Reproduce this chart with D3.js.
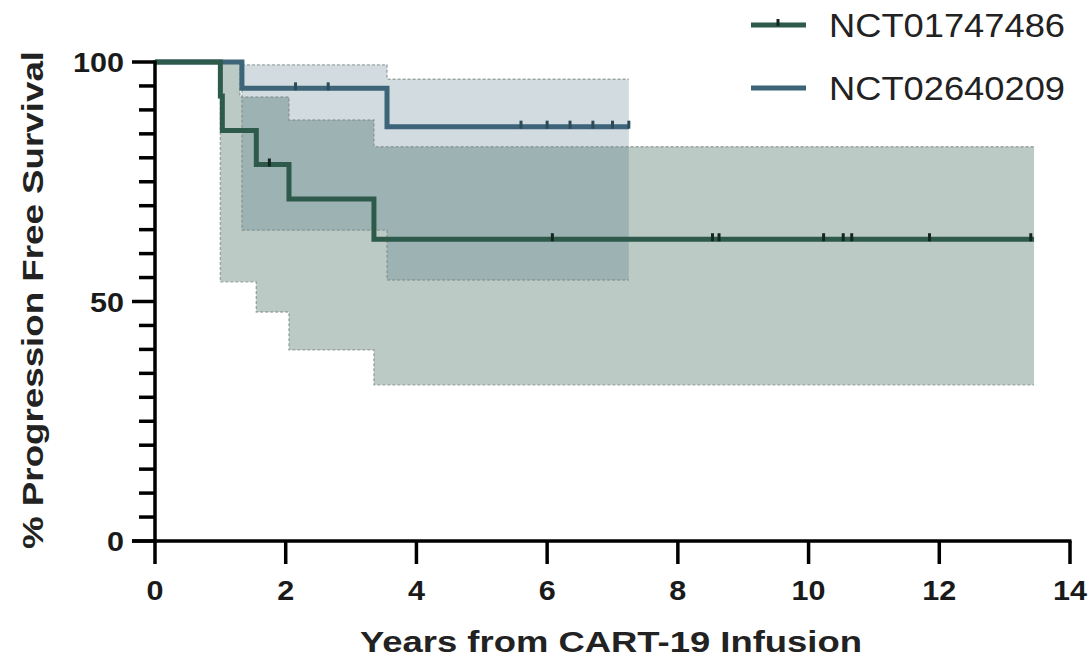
<!DOCTYPE html>
<html>
<head>
<meta charset="utf-8">
<script src="https://cdn.jsdelivr.net/npm/d3@7"></script>
<style>
  html, body { margin: 0; padding: 0; background: #fff; }
  svg { display: block; font-family: "Liberation Sans", Arial, sans-serif; }
</style>
</head>
<body>
<svg id="chart" width="1089" height="664"></svg>
<script>
// ---------------- DATA ----------------
const seriesNames = ["NCT01747486", "NCT02640209"];

// NCT01747486 (green) Kaplan-Meier steps
const s1Times = [0, 1.0, 1.03, 1.55, 2.05, 3.35, 13.45];
const s1Surv  = [100, 92.9, 85.7, 78.6, 71.4, 63.0, 63.0];
const s1Censor = [1.75, 6.08, 8.53, 8.63, 10.23, 10.53, 10.66, 11.85, 13.4];
// 95% CI band for NCT01747486
const s1BandTimes = [1.0, 1.3, 1.55, 2.05, 3.35, 13.45];
const s1Upper     = [100, 92.7, 92.7, 87.9, 82.3, 82.3];
const s1Lower     = [54.1, 54.1, 47.8, 39.9, 32.6, 32.6];

// NCT02640209 (blue) Kaplan-Meier steps
const s2Times = [0, 1.33, 3.55, 7.25];
const s2Surv  = [100, 94.5, 86.5, 86.5];
const s2Censor = [2.15, 2.65, 5.6, 6.0, 6.35, 6.7, 7.0, 7.25];
// 95% CI band for NCT02640209
const s2BandTimes = [1.33, 3.55, 7.25];
const s2Upper     = [99.4, 96.4, 96.4];
const s2Lower     = [64.9, 54.5, 54.5];

const xTicks = [0, 2, 4, 6, 8, 10, 12, 14];
const yMajorTicks = [0, 50, 100];
const yMinorTicks = d3.range(0, 101, 5);

// ---------------- STYLE ----------------
const greenCol = "#2d5a4a";
const blueCol  = "#3d6478";

const svg = d3.select("#chart");
const x = d3.scaleLinear().domain([0, 14]).range([155, 1070]);
const y = d3.scaleLinear().domain([0, 100]).range([541, 62]);

const zip = (t, v) => t.map((d, i) => ({t: d, v: v[i]}));
const bandData = (t, lo, hi) => t.map((d, i) => ({t: d, lo: lo[i], hi: hi[i]}));

// ---------------- BANDS ----------------
const area = d3.area().curve(d3.curveStepAfter)
  .x(d => x(d.t)).y0(d => y(d.lo)).y1(d => y(d.hi));
const edgeHi = d3.line().curve(d3.curveStepAfter).x(d => x(d.t)).y(d => y(d.hi));
const edgeLo = d3.line().curve(d3.curveStepAfter).x(d => x(d.t)).y(d => y(d.lo));

const bands = [
  {data: bandData(s1BandTimes, s1Lower, s1Upper), col: greenCol, op: 0.32},
  {data: bandData(s2BandTimes, s2Lower, s2Upper), col: blueCol, op: 0.23}
];
bands.forEach(b => {
  svg.append("path").attr("d", area(b.data)).attr("fill", b.col).attr("fill-opacity", b.op);
});
bands.forEach(b => {
  [edgeHi, edgeLo].forEach(fn => {
    svg.append("path").attr("d", fn(b.data)).attr("fill", "none")
      .attr("stroke", "#7d8a86").attr("stroke-width", 1.4)
      .attr("stroke-dasharray", "3,2").attr("stroke-opacity", 0.7);
  });
  const first = b.data[0];
  svg.append("line").attr("x1", x(first.t)).attr("x2", x(first.t))
    .attr("y1", y(first.hi)).attr("y2", y(first.lo))
    .attr("stroke", "#7d8a86").attr("stroke-width", 1.4)
    .attr("stroke-dasharray", "3,2").attr("stroke-opacity", 0.7);
});

// ---------------- CURVES ----------------
const line = d3.line().curve(d3.curveStepAfter).x(d => x(d.t)).y(d => y(d.v));
const curves = [
  {data: zip(s1Times, s1Surv), censor: s1Censor, col: greenCol},
  {data: zip(s2Times, s2Surv), censor: s2Censor, col: blueCol}
];
[curves[1], curves[0]].forEach(c => {
  svg.append("path").attr("d", line(c.data)).attr("fill", "none")
    .attr("stroke", c.col).attr("stroke-width", 5).attr("stroke-linejoin", "miter");
});

function survAt(c, t) {
  let v = c.data[0].v;
  c.data.forEach(d => { if (d.t <= t) v = d.v; });
  return v;
}
curves.forEach(c => {
  svg.selectAll(null).data(c.censor).enter().append("line")
    .attr("x1", d => x(d)).attr("x2", d => x(d))
    .attr("y1", d => y(survAt(c, d)) - 6).attr("y2", d => y(survAt(c, d)) + 2)
    .attr("stroke", c === curves[0] ? "#14261f" : "#2c4a5a").attr("stroke-width", 3);
});

// ---------------- AXES ----------------
const axisG = svg.append("g");
// y axis
axisG.append("line").attr("x1", x(0)).attr("x2", x(0)).attr("y1", y(100) - 1.5).attr("y2", y(0) + 1.5)
  .attr("stroke", "#000").attr("stroke-width", 3.5);
axisG.selectAll(null).data(yMinorTicks).enter().append("line")
  .attr("x1", d => yMajorTicks.includes(d) ? x(0) - 23 : x(0) - 16).attr("x2", x(0))
  .attr("y1", d => y(d)).attr("y2", d => y(d))
  .attr("stroke", "#000").attr("stroke-width", 3.5);
axisG.selectAll(null).data(yMajorTicks).enter().append("text")
  .attr("x", x(0) - 31).attr("y", d => y(d) + 10)
  .attr("text-anchor", "end").attr("font-size", 28).attr("font-weight", "bold").attr("fill", "#1a1a1a")
  .attr("textLength", d => String(d).length * 17).attr("lengthAdjust", "spacingAndGlyphs")
  .text(d => d);

// x axis
axisG.append("line").attr("x1", x(0) - 23).attr("x2", x(14) + 1.5).attr("y1", y(0)).attr("y2", y(0))
  .attr("stroke", "#000").attr("stroke-width", 3.5);
axisG.selectAll(null).data(xTicks).enter().append("line")
  .attr("x1", d => x(d)).attr("x2", d => x(d))
  .attr("y1", y(0)).attr("y2", y(0) + 23)
  .attr("stroke", "#000").attr("stroke-width", 3.5);
axisG.selectAll(null).data(xTicks).enter().append("text")
  .attr("x", d => x(d)).attr("y", 600)
  .attr("text-anchor", "middle").attr("font-size", 28).attr("font-weight", "bold").attr("fill", "#1a1a1a")
  .attr("textLength", d => String(d).length * 17).attr("lengthAdjust", "spacingAndGlyphs")
  .text(d => d);

// axis titles
svg.append("text").attr("x", 611).attr("y", 652)
  .attr("text-anchor", "middle").attr("font-size", 29).attr("font-weight", "bold").attr("fill", "#222")
  .attr("textLength", 502).attr("lengthAdjust", "spacingAndGlyphs")
  .text("Years from CART-19 Infusion");
svg.append("text").attr("transform", "translate(43,300) rotate(-90)")
  .attr("text-anchor", "middle").attr("font-size", 29).attr("font-weight", "bold").attr("fill", "#222")
  .attr("textLength", 498).attr("lengthAdjust", "spacingAndGlyphs")
  .text("% Progression Free Survival");

// ---------------- LEGEND ----------------
const legendY = [25, 88];
seriesNames.forEach((name, i) => {
  const col = i === 0 ? greenCol : blueCol;
  svg.append("line").attr("x1", 751).attr("x2", 806).attr("y1", legendY[i]).attr("y2", legendY[i])
    .attr("stroke", col).attr("stroke-width", 5);
  if (i === 0) {
    svg.append("line").attr("x1", 778).attr("x2", 778).attr("y1", legendY[i] - 6).attr("y2", legendY[i] + 1)
      .attr("stroke", "#14261f").attr("stroke-width", 3);
  }
  svg.append("text").attr("x", 829).attr("y", legendY[i] + 12)
    .attr("font-size", 33).attr("fill", "#222")
    .attr("textLength", 236).attr("lengthAdjust", "spacingAndGlyphs")
    .text(name);
});
</script>
</body>
</html>
